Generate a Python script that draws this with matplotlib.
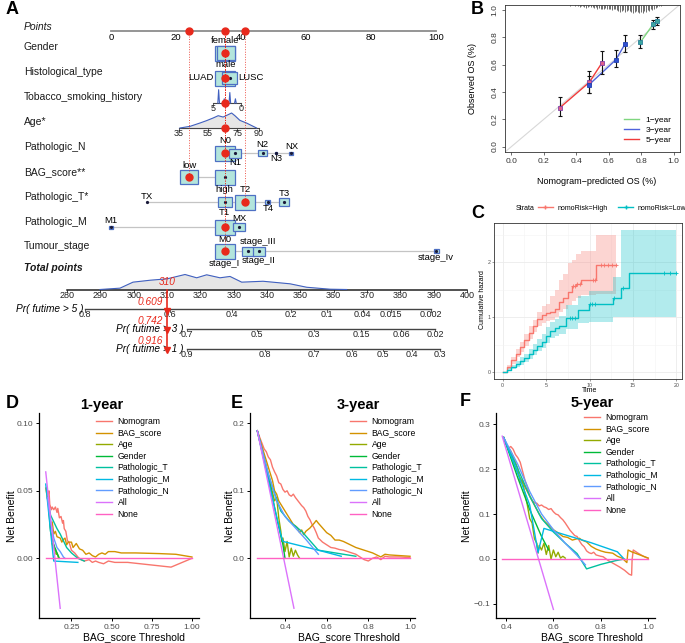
import matplotlib.pyplot as plt
import matplotlib.transforms as mtransforms
from matplotlib.patches import Rectangle
from matplotlib.lines import Line2D
import numpy as np

plt.rcParams['font.family'] = ['Liberation Sans', 'DejaVu Sans']

# ---------------- data: A (nomogram) ----------------
points_ticks = [0, 20, 40, 60, 80, 100]

gender_lv = ['female', 'male']
gender_pts = [35.0, 35.4]
gender_n = [1.0, 0.92]

hist_lv = ['LUAD', 'LUSC']
hist_pts = [35.0, 36.5]
hist_n = [1.0, 0.78]

smoke_ticks = [5, 0]
smoke_vals = [4, 3, 2, 1]
smoke_dens = [0.95, 0.3, 0.75, 0.3]

age_ticks = [35, 55, 75, 90]
age_x = [35.7, 42.6, 49.4, 54, 58.6, 62, 65.4, 68.9, 71.2, 73.5, 76.9, 81.5, 86.1, 88.4]
age_dens = [0, 0.11, 0.33, 0.49, 0.67, 0.82, 0.73, 0.89, 1.0, 0.82, 0.51, 0.33, 0.11, 0]

n_lv = ['N0', 'N1', 'N2', 'N3', 'NX']
n_pts = [35.0, 38.3, 46.7, 50.8, 55.5]
n_n = [1.0, 0.6, 0.45, 0.08, 0.2]

bag_lv = ['low', 'high']
bag_pts = [24.0, 35.0]
bag_n = [0.92, 1.0]

t_lv = ['TX', 'T1', 'T2', 'T4', 'T3']
t_pts = [11.0, 35.0, 41.2, 48.3, 53.2]
t_n = [0.06, 0.7, 1.0, 0.25, 0.47]

m_lv = ['M1', 'M0', 'MX']
m_pts = [0.0, 35.0, 39.4]
m_n = [0.2, 1.0, 0.56]

stage_lv = ['stage_I', 'stage_III', 'stage_II', 'stage_Iv']
stage_pts = [35.0, 42.2, 45.5, 100.0]
stage_n = [1.0, 0.6, 0.6, 0.25]

# points of the highlighted patient on each row
sel_pts = {'gender': 35.0, 'hist': 35.0, 'smoke': 35.0, 'age': 35.0, 'n': 35.0,
           'bag': 24.0, 't': 41.2, 'm': 35.0, 'stage': 35.0}

total_ticks = list(range(280, 401, 10))
total_x = [289.9, 295.9, 299.8, 305, 310, 315.4, 318.9, 321.9, 325.9, 328.9, 332.4, 338.8,
           346.9, 351.9, 358.9, 363.9]
total_dens = [0, 0.09, 0.49, 0.62, 0.71, 1.0, 0.78, 0.98, 0.78, 0.87, 0.49, 0.55, 0.38,
              0.15, 0.02, 0]

pr5_lab = ['0.8', '0.6', '0.4', '0.2', '0.1', '0.04', '0.015', '0.002']
pr5_pos = [285.4, 310.9, 329.4, 347.2, 358.1, 368.7, 377.1, 389.2]
pr3_lab = ['0.7', '0.5', '0.3', '0.15', '0.06', '0.02']
pr3_pos = [315.9, 336.9, 354.0, 368.2, 380.2, 390.4]
pr1_lab = ['0.9', '0.8', '0.7', '0.6', '0.5', '0.4', '0.3']
pr1_pos = [315.9, 339.4, 354.2, 365.4, 374.9, 383.5, 392.0]

patient_total = 310
patient_pr = ['0.609', '0.742', '0.916']

# ---------------- data: B (calibration) ----------------
b1_x = [0.795, 0.874, 0.897]; b1_y = [0.763, 0.895, 0.92]
b1_lo = [0.72, 0.86, 0.89]; b1_hi = [0.817, 0.93, 0.95]
b3_x = [0.477, 0.643, 0.701]; b3_y = [0.451, 0.634, 0.751]
b3_lo = [0.39, 0.58, 0.695]; b3_hi = [0.52, 0.707, 0.817]
b5_x = [0.299, 0.48, 0.557]; b5_y = [0.285, 0.47, 0.61]
b5_lo = [0.227, 0.39, 0.53]; b5_hi = [0.366, 0.554, 0.70]
rug_x = np.round(np.arange(0.30, 0.955, 0.01), 2)
rug_n = [0, 1, 0, 1, 1, 0, 2, 1, 1, 2,
         1, 2, 3, 2, 2, 3, 4, 3, 2, 3,
         3, 4, 3, 5, 4, 5, 6, 5, 4, 6,
         5, 6, 7, 6, 5, 7, 8, 9, 8, 7,
         9, 8, 7, 8, 9, 10, 9, 8, 9, 10,
         9, 10, 8, 9, 7, 8, 6, 7, 5, 4,
         3, 2, 2, 1, 0, 0]

# ---------------- data: C (cumulative hazard) ----------------
high_t = [0, 0.5, 1.0, 1.5, 2.0, 2.5, 3.0, 3.5, 4.0, 4.5, 5.0, 5.5, 6.0, 6.5, 7.0, 7.5, 8.0, 8.5, 9.0, 10.8, 13.1]
high_h = [0, 0.10, 0.22, 0.34, 0.46, 0.58, 0.72, 0.85, 0.97, 1.05, 1.08, 1.10, 1.16, 1.27, 1.35, 1.46, 1.57, 1.60, 1.67, 1.95, 1.95]
high_up = [0, 0.14, 0.28, 0.42, 0.56, 0.70, 0.85, 0.96, 1.10, 1.20, 1.25, 1.38, 1.50, 1.68, 1.78, 1.98, 2.05, 2.15, 2.20, 2.50, 2.50]
high_lo = [0, 0.06, 0.16, 0.27, 0.37, 0.48, 0.60, 0.74, 0.84, 0.90, 0.94, 0.96, 1.00, 1.10, 1.15, 1.22, 1.30, 1.35, 1.40, 1.42, 1.42]
high_cens = [8.1, 8.3, 8.6, 8.9, 10.4, 10.6, 11.3, 11.7, 12.1, 12.6, 13.0]
low_t = [0, 0.5, 1.0, 1.5, 2.0, 2.5, 3.0, 3.5, 4.0, 4.5, 5.0, 5.5, 6.0, 6.5, 7.3, 8.7, 9.9, 12.7, 13.6, 14.5, 20.0]
low_h = [0, 0.05, 0.10, 0.15, 0.20, 0.26, 0.33, 0.41, 0.48, 0.56, 0.66, 0.76, 0.80, 0.84, 0.98, 1.13, 1.24, 1.35, 1.53, 1.80, 1.80]
low_up = [0, 0.08, 0.14, 0.20, 0.27, 0.34, 0.42, 0.51, 0.60, 0.70, 0.82, 0.92, 0.97, 1.02, 1.22, 1.38, 1.47, 1.74, 2.59, 2.59, 2.59]
low_lo = [0, 0.03, 0.06, 0.10, 0.14, 0.19, 0.25, 0.32, 0.38, 0.45, 0.53, 0.62, 0.66, 0.69, 0.78, 0.90, 0.92, 1.00, 1.01, 1.01, 1.01]
low_cens = [7.7, 8.0, 8.3, 10.0, 10.3, 10.6, 12.8, 13.8, 18.6, 19.3, 19.9]

# ---------------- data: D/E/F (decision curves) ----------------
dca_names = ['Nomogram', 'BAG_score', 'Age', 'Gender', 'Pathologic_T', 'Pathologic_M',
             'Pathologic_N', 'All', 'None']
dca_colors = ['#F8766D', '#D39200', '#93AA00', '#00BA38', '#00C19F', '#00B9E3',
              '#619CFF', '#DB72FB', '#FF61C3']

d_t = {
    'Nomogram': [0.095, 0.105, 0.11, 0.115, 0.125, 0.13, 0.14, 0.15, 0.16, 0.165, 0.175, 0.185, 0.195, 0.2,
                 0.205, 0.215, 0.225, 0.235, 0.25, 0.27, 0.29, 0.31, 0.33, 0.36, 0.38, 0.40, 0.42, 0.45,
                 0.48, 0.52, 0.6, 0.87, 1.0],
    'BAG_score': [0.09, 0.1, 0.11, 0.115, 0.12, 0.13, 0.14, 0.15, 0.16, 0.18, 0.19, 0.2, 0.21, 0.22, 0.23,
                  0.25, 0.26, 0.28, 0.30, 0.32, 0.34, 0.36, 0.38, 0.40, 0.42, 0.44, 0.46, 0.48, 0.52, 0.56,
                  0.65, 0.8, 0.9, 1.0],
    'Age': [0.13, 0.135, 0.14, 0.145, 0.15, 0.155, 0.16, 0.17],
    'Gender': [0.11, 0.12, 0.14, 0.16, 0.175],
    'Pathologic_T': [0.1, 0.12, 0.14, 0.16, 0.18, 0.2, 0.22, 0.25, 0.29, 0.33],
    'Pathologic_M': [0.09, 0.12, 0.135, 0.14, 0.29],
    'Pathologic_N': [0.1, 0.12, 0.14, 0.16, 0.18, 0.2, 0.21],
    'All': [0.09, 0.18],
    'None': [0.09, 1.0],
}
d_nb = {
    'Nomogram': [0.052, 0.047, 0.050, 0.040, 0.036, 0.038, 0.036, 0.038, 0.034, 0.037, 0.030, 0.031, 0.026,
                 0.028, 0.022, 0.020, 0.013, 0.012, 0.006, 0.004, 0.001, -0.001, -0.002, -0.001, -0.003,
                 -0.002, -0.003, -0.004, -0.002, -0.003, -0.003, -0.0065, 0.0],
    'BAG_score': [0.052, 0.045, 0.038, 0.030, 0.022, 0.027, 0.018, 0.020, 0.016, 0.015, 0.012, 0.014, 0.015,
                  0.010, 0.012, 0.012, 0.008, 0.011, 0.007, 0.006, 0.003, 0.004, 0.002, 0.001, 0.003, 0.004,
                  0.003, 0.005, 0.005, 0.004, 0.004, 0.0035, 0.003, 0.001],
    'Age': [0.011, 0.009, 0.010, 0.006, 0.007, 0.003, 0.004, 0.0],
    'Gender': [0.035, 0.02, 0.01, 0.004, 0.0],
    'Pathologic_T': [0.045, 0.032, 0.027, 0.022, 0.018, 0.013, 0.008, 0.004, 0.0, -0.002],
    'Pathologic_M': [0.055, 0.02, 0.003, -0.002, -0.003],
    'Pathologic_N': [0.045, 0.028, 0.015, 0.008, 0.005, 0.001, 0.0],
    'All': [0.064, -0.037],
    'None': [0.0, 0.0],
}

e_t = {
    'Nomogram': [0.267, 0.28, 0.29, 0.30, 0.31, 0.32, 0.33, 0.34, 0.35, 0.36, 0.37, 0.38, 0.39, 0.40, 0.41,
                 0.42, 0.43, 0.44, 0.45, 0.46, 0.47, 0.48, 0.49, 0.50, 0.51, 0.52, 0.53, 0.54, 0.55, 0.56,
                 0.58, 0.60, 0.62, 0.64, 0.66, 0.68, 0.70, 0.72, 0.74, 0.76, 0.78, 0.80, 0.82, 0.84, 0.86,
                 0.88, 0.90, 0.95, 1.0],
    'BAG_score': [0.267, 0.28, 0.30, 0.32, 0.34, 0.35, 0.36, 0.37, 0.38, 0.39, 0.40, 0.41, 0.42, 0.43, 0.44,
                  0.45, 0.46, 0.47, 0.48, 0.49, 0.50, 0.52, 0.54, 0.55, 0.56, 0.58, 0.60, 0.62, 0.64, 0.66,
                  0.68, 0.70, 0.72, 0.74, 0.76, 0.78, 0.80, 0.82, 0.84, 0.86, 0.88, 0.90, 0.95, 1.0],
    'Age': [0.267, 0.30, 0.33, 0.35, 0.36, 0.37, 0.38, 0.385, 0.39, 0.40, 0.41, 0.42, 0.43, 0.44, 0.45,
            0.46, 0.47],
    'Gender': [0.267, 0.32, 0.36, 0.39, 0.40],
    'Pathologic_T': [0.267, 0.30, 0.34, 0.38, 0.42, 0.48, 0.56, 0.74],
    'Pathologic_M': [0.267, 0.31, 0.35, 0.38, 0.39, 0.56, 0.67],
    'Pathologic_N': [0.267, 0.32, 0.36, 0.40, 0.45, 0.50, 0.56],
    'All': [0.267, 0.443],
    'None': [0.267, 1.0],
}
e_nb = {
    'Nomogram': [0.189, 0.178, 0.170, 0.162, 0.158, 0.150, 0.146, 0.135, 0.128, 0.122, 0.112, 0.110, 0.102,
                 0.098, 0.100, 0.094, 0.092, 0.095, 0.090, 0.086, 0.082, 0.078, 0.075, 0.070, 0.062, 0.057,
                 0.050, 0.045, 0.038, 0.030, 0.024, 0.020, 0.016, 0.015, 0.013, 0.012, 0.010, 0.008, 0.006,
                 0.002, -0.002, -0.004, 0.0, 0.002, -0.002, 0.003, 0.002, 0.002, 0.001],
    'BAG_score': [0.189, 0.175, 0.155, 0.135, 0.115, 0.10, 0.095, 0.085, 0.08, 0.075, 0.07, 0.065, 0.06,
                  0.055, 0.05, 0.048, 0.045, 0.038, 0.042, 0.035, 0.040, 0.045, 0.052, 0.056, 0.052, 0.045,
                  0.038, 0.034, 0.027, 0.027, 0.025, 0.022, 0.019, 0.016, 0.014, 0.012, 0.01, 0.008, 0.005,
                  0.002, 0.006, 0.005, 0.004, 0.003],
    'Age': [0.189, 0.15, 0.11, 0.085, 0.09, 0.06, 0.04, 0.025, 0.03, 0.01, 0.025, 0.002, 0.015, 0.003,
            0.012, 0.005, 0.0],
    'Gender': [0.189, 0.12, 0.06, 0.02, 0.0],
    'Pathologic_T': [0.189, 0.145, 0.105, 0.07, 0.055, 0.04, 0.012, 0.003],
    'Pathologic_M': [0.189, 0.13, 0.075, 0.035, 0.025, 0.012, 0.003],
    'Pathologic_N': [0.189, 0.125, 0.085, 0.062, 0.045, 0.028, 0.006],
    'All': [0.189, -0.074],
    'None': [0.0, 0.0],
}

f_t = {
    'Nomogram': [0.39, 0.40, 0.41, 0.42, 0.43, 0.44, 0.45, 0.46, 0.47, 0.48, 0.49, 0.50, 0.51, 0.52, 0.53,
                 0.54, 0.55, 0.56, 0.57, 0.58, 0.59, 0.60, 0.61, 0.62, 0.63, 0.64, 0.65, 0.66, 0.67, 0.68,
                 0.69, 0.70, 0.71, 0.72, 0.73, 0.74, 0.75, 0.76, 0.77, 0.78, 0.80, 0.81, 0.83, 0.84, 0.86,
                 0.88, 0.90, 0.92, 0.93, 0.932, 0.937, 0.96, 0.98, 1.0],
    'BAG_score': [0.39, 0.40, 0.42, 0.44, 0.45, 0.46, 0.47, 0.48, 0.50, 0.52, 0.54, 0.56, 0.58, 0.60, 0.62,
                  0.64, 0.66, 0.68, 0.70, 0.71, 0.72, 0.74, 0.76, 0.78, 0.80, 0.82, 0.85, 0.87, 0.89, 0.91,
                  0.915, 0.93, 0.95, 0.97, 1.0],
    'Age': [0.39, 0.42, 0.45, 0.47, 0.49, 0.50, 0.51, 0.52, 0.53, 0.535, 0.54, 0.55, 0.56, 0.57, 0.58,
            0.59, 0.60, 0.61, 0.62, 0.63, 0.64, 0.65],
    'Gender': [0.39, 0.45, 0.50, 0.55, 0.58],
    'Pathologic_T': [0.39, 0.45, 0.50, 0.55, 0.60, 0.65, 0.70, 0.74, 0.80, 0.86, 0.90],
    'Pathologic_M': [0.39, 0.45, 0.50, 0.53, 0.535, 0.56, 0.76, 0.87, 0.895],
    'Pathologic_N': [0.39, 0.45, 0.50, 0.55, 0.60, 0.65, 0.70, 0.735],
    'All': [0.384, 0.6],
    'None': [0.384, 1.0],
}
f_nb = {
    'Nomogram': [0.27, 0.255, 0.246, 0.25, 0.244, 0.232, 0.225, 0.215, 0.195, 0.175, 0.16, 0.14, 0.13,
                 0.125, 0.124, 0.118, 0.12, 0.116, 0.114, 0.11, 0.112, 0.105, 0.1, 0.098, 0.092, 0.087,
                 0.08, 0.072, 0.064, 0.058, 0.052, 0.05, 0.04, 0.032, 0.027, 0.018, 0.014, 0.012, 0.015,
                 0.009, 0.006, 0.005, -0.003, -0.006, -0.012, -0.018, -0.025, -0.034, -0.036, -0.002,
                 0.02, 0.012, 0.006, 0.0015],
    'BAG_score': [0.27, 0.255, 0.24, 0.215, 0.20, 0.17, 0.175, 0.16, 0.14, 0.12, 0.10, 0.085, 0.075,
                  0.065, 0.058, 0.05, 0.048, 0.042, 0.045, 0.046, 0.042, 0.038, 0.028, 0.022, 0.018,
                  0.015, 0.013, 0.006, 0.002, -0.008, 0.02, 0.016, 0.012, 0.008, 0.002],
    'Age': [0.27, 0.23, 0.19, 0.17, 0.12, 0.09, 0.08, 0.045, 0.035, 0.013, 0.03, 0.02, 0.035, 0.01, 0.03,
            0.0, 0.02, 0.005, 0.015, 0.002, 0.006, 0.002],
    'Gender': [0.27, 0.18, 0.11, 0.05, 0.02],
    'Pathologic_T': [0.27, 0.2, 0.14, 0.09, 0.06, 0.035, 0.012, -0.022, -0.012, -0.004, 0.0],
    'Pathologic_M': [0.27, 0.19, 0.12, 0.03, 0.014, 0.068, 0.036, 0.016, 0.002],
    'Pathologic_N': [0.27, 0.21, 0.15, 0.10, 0.065, 0.035, 0.008, -0.013],
    'All': [0.273, -0.112],
    'None': [0.0, 0.0],
}

# ---------------- figure ----------------
W, H = 685, 643
fig = plt.figure(figsize=(W / 100, H / 100), dpi=100)


def px_axes(l, t, r, b):
    return fig.add_axes([l / W, 1 - b / H, (r - l) / W, (b - t) / H])


def panel_label(x, y, s):
    fig.text(x / W, 1 - y / H, s, fontsize=13, fontweight='bold', ha='center', va='center')


# ===== A: nomogram =====
axA = px_axes(0, 0, 470, 360)
PX0, PXS = 111, 3.25          # x pixel of 0 points, pixels per point
axA.set_xlim(-PX0 / PXS, (470 - PX0) / PXS)
axA.set_ylim(360, 0)
axA.axis('off')
lab_tr = mtransforms.blended_transform_factory(axA.transAxes, axA.transData)

BOX_FC, BOX_EC = '#b3e5dc', '#4e70c4'
RED = '#e8291c'
DENS_EC = '#4060c0'


def tot2pts(T):
    return (67 + (np.asarray(T, dtype=float) - 280) * 10 / 3 - PX0) / PXS


def age2pts(a):
    return 20.9 + (np.asarray(a, dtype=float) - 35) * 0.4473


def smoke2pts(v):
    return 40.0 - np.asarray(v, dtype=float) * 1.72


def scale_line(y, pos, labels, color='#555555', lw=1.0, fs=6.5):
    axA.plot([min(pos), max(pos)], [y, y], color=color, lw=lw, zorder=1)
    for p, s in zip(pos, labels):
        axA.plot([p, p], [y, y + 2.5], color=color, lw=0.6, zorder=1)
        axA.text(p, y + 1.2, s, ha='center', va='top', fontsize=fs, color='#222222')


def level_row(y, names, pts, n, sides, dx=None):
    dx = dx or [0] * len(names)
    axA.plot([min(pts), max(pts)], [y, y], color='#c4c4c4', lw=0.9, zorder=1)
    for nm, p, s, sd, d in zip(names, pts, n, sides, dx):
        w, h = 20 * s / PXS, 15 * s
        axA.add_patch(Rectangle((p - w / 2, y - h / 2), w, h, fc=BOX_FC, ec=BOX_EC, lw=0.9, zorder=2))
        axA.plot(p, y, 'o', ms=1.3, color='#1a1a3a', zorder=3)
        if sd == 'above':
            axA.text(p + d, y - h / 2 - 0.2, nm, ha='center', va='bottom', fontsize=6.8)
        elif sd == 'below':
            axA.text(p + d, y + h / 2 + 0.3, nm, ha='center', va='top', fontsize=6.8)
        elif sd == 'left':
            axA.text(p - w / 2 - 0.3, y, nm, ha='right', va='center', fontsize=6.8)
        else:
            axA.text(p + w / 2 + 0.3, y, nm, ha='left', va='center', fontsize=6.8)


row_y = {'points': 31, 'gender': 53, 'hist': 78, 'smoke': 103, 'age': 128, 'n': 153,
         'bag': 177, 't': 202, 'm': 227, 'stage': 251}
row_lab = [('Points', 27, 'italic', 'normal'), ('Gender', 47, 'normal', 'normal'),
           ('Histological_type', 72, 'normal', 'normal'), ('Tobacco_smoking_history', 97, 'normal', 'normal'),
           ('Age*', 122, 'normal', 'normal'), ('Pathologic_N', 147, 'normal', 'normal'),
           ('BAG_score**', 172, 'normal', 'normal'), ('Pathologic_T*', 197, 'normal', 'normal'),
           ('Pathologic_M', 222, 'normal', 'normal'), ('Tumour_stage', 246, 'normal', 'normal'),
           ('Total points', 268, 'italic', 'bold')]
for s, y, st, wt in row_lab:
    axA.text(24 / 470, y, s, transform=lab_tr, ha='left', va='center', fontsize=7.5,
             style=st, fontweight=wt, color='#1a1a1a')

# points axis
axA.plot([0, 100], [31, 31], color='#8c8c8c', lw=1.3, zorder=1)
for p in points_ticks:
    axA.text(p, 32.5, str(p), ha='center', va='top', fontsize=6.8)

# dotted guide lines from points axis to the selected level on each row
for key, p in sel_pts.items():
    axA.plot([p, p], [31, row_y[key]], color=RED, lw=0.7, ls=(0, (1, 1.6)), zorder=4, alpha=0.8)
for p in sorted(set(sel_pts.values())):
    axA.plot(p, 31, 'o', ms=5, color=RED, zorder=5)

level_row(row_y['gender'], gender_lv, gender_pts, gender_n, ['above', 'below'])
level_row(row_y['hist'], hist_lv, hist_pts, hist_n, ['left', 'right'])

# tobacco: spike density + axis
ys = row_y['smoke']
sx = smoke2pts(smoke_vals)
for x, d in zip(sx, smoke_dens):
    axA.plot([x - 0.25, x, x + 0.25], [ys, ys - 14 * d, ys], color=DENS_EC, lw=0.8, zorder=2)
scale_line(ys, list(smoke2pts(smoke_ticks)), [str(v) for v in smoke_ticks], color='#444444', lw=0.8)

# age: density + axis
ya = row_y['age']
ax_age = age2pts(age_x)
axA.fill_between(ax_age, ya, ya - 15 * np.array(age_dens), color='#e6e6e6', zorder=1)
axA.plot(ax_age, ya - 15 * np.array(age_dens), color=DENS_EC, lw=0.8, zorder=2)
scale_line(ya, list(age2pts(age_ticks)), [str(v) for v in age_ticks], color='#444444', lw=0.8)

level_row(row_y['n'], n_lv, n_pts, n_n, ['above', 'below', 'above', 'below', 'above'])
level_row(row_y['bag'], bag_lv, bag_pts, bag_n, ['above', 'below'])
level_row(row_y['t'], t_lv, t_pts, t_n, ['above', 'below', 'above', 'below', 'above'])
level_row(row_y['m'], m_lv, m_pts, m_n, ['above', 'below', 'above'])
level_row(row_y['stage'], stage_lv, stage_pts, stage_n, ['below', 'above', 'below', 'below'],
          dx=[0, 3.0, 0, 0])

for key, p in sel_pts.items():
    axA.plot(p, row_y[key], 'o', ms=5, color=RED, zorder=6)

# total points
yt = 289.5
tx = tot2pts(total_x)
axA.fill_between(tx, yt, yt - 15 * np.array(total_dens), color='#e6e6e6', zorder=1)
axA.plot(tx, yt - 15 * np.array(total_dens), color=DENS_EC, lw=0.8, zorder=2)
scale_line(yt, list(tot2pts(total_ticks)), [str(v) for v in total_ticks], color='#222222', lw=1.1)

pr_rows = [(309, 'Pr( futime > 5 )', 83, pr5_pos, pr5_lab),
           (328.5, 'Pr( futime > 3 )', 183, pr3_pos, pr3_lab),
           (348.5, 'Pr( futime > 1 )', 183, pr1_pos, pr1_lab)]
for y, txt, xr, pos, lab in pr_rows:
    scale_line(y, list(tot2pts(pos)), lab, color='#444444', lw=1.0)
    axA.text((xr - PX0) / PXS, y, txt, ha='right', va='center', fontsize=7.3, style='italic')

xp = float(tot2pts(patient_total))
axA.text(xp, 287, str(patient_total), ha='center', va='bottom', fontsize=7.3, style='italic', color=RED)
axA.plot([xp, xp], [yt, 349], color=RED, lw=1.2, zorder=6)
for (y, _, _, _, _), v in zip(pr_rows, patient_pr):
    axA.plot(xp, y + 1.5, 'v', ms=4, color=RED, zorder=7)
    axA.text(xp - 1.2, y - 7, v, ha='right', va='center', fontsize=7.3, style='italic', color=RED)

# ===== B: calibration =====
axB = px_axes(505, 4.5, 680, 152)
axB.set_xlim(-0.04, 1.04)
axB.set_ylim(-0.04, 1.04)
axB.plot([-0.04, 1.04], [-0.04, 1.04], color='#d8d8d8', lw=0.8, zorder=1)
axB.vlines(rug_x, 1.04 - 0.006 * np.array(rug_n), 1.04, color='#555555', lw=0.6)
for xs, yv, lo, hi, lc, fc, ec in [(b5_x, b5_y, b5_lo, b5_hi, '#f03b3b', '#e0608a', '#8040a8'),
                                    (b3_x, b3_y, b3_lo, b3_hi, '#4f63dc', '#2f4fd0', '#2040b0'),
                                    (b1_x, b1_y, b1_lo, b1_hi, '#7fd67f', '#3aa6a0', '#2a7f9a')]:
    axB.plot(xs, yv, color=lc, lw=1.0, zorder=2)
    yv = np.array(yv)
    axB.errorbar(xs, yv, yerr=[yv - np.array(lo), np.array(hi) - yv], fmt='none', ecolor='#111111',
                 elinewidth=0.8, capsize=1.6, capthick=0.8, zorder=3)
    axB.plot(xs, yv, 's', ms=3, mfc=fc, mec=ec, mew=0.6, zorder=4)
axB.set_xticks([0, 0.2, 0.4, 0.6, 0.8, 1.0])
axB.set_yticks([0, 0.2, 0.4, 0.6, 0.8, 1.0])
axB.set_xticklabels(['0.0', '0.2', '0.4', '0.6', '0.8', '1.0'])
axB.set_yticklabels(['0.0', '0.2', '0.4', '0.6', '0.8', '1.0'], rotation=90, va='center')
axB.tick_params(labelsize=6, length=2.5, width=0.5, colors='#333333', pad=2)
for sp in axB.spines.values():
    sp.set_linewidth(0.6)
    sp.set_color('#333333')
fig.text(597 / W, 1 - 181 / H, 'Nomogram\u2212predicted OS (%)', ha='center', va='center', fontsize=6.5)
fig.text(473 / W, 1 - 78 / H, 'Observed OS (%)', ha='center', va='center', fontsize=6.5, rotation=90)
hB = [Line2D([], [], color=c, lw=1.0) for c in ['#7fd67f', '#4f63dc', '#f03b3b']]
axB.legend(hB, ['1\u2212year', '3\u2212year', '5\u2212year'], loc='lower right', frameon=False,
           fontsize=6, handlelength=1.8, labelspacing=0.25, borderaxespad=0.6)

# ===== C: cumulative hazard =====
axC = px_axes(494.3, 223.3, 681.7, 379.3)
axC.set_xlim(-0.95, 20.6)
axC.set_ylim(-0.127, 2.71)
CRED, CCYAN = '#F8766D', '#00BFC4'
for t, h, lo, hi, c, cens in [(high_t, high_h, high_lo, high_up, CRED, high_cens),
                              (low_t, low_h, low_lo, low_up, CCYAN, low_cens)]:
    axC.fill_between(t, lo, hi, step='post', color=c, alpha=0.3, lw=0, zorder=2)
    axC.step(t, h, where='post', color=c, lw=1.0, zorder=3)
    idx = np.searchsorted(t, cens, side='right') - 1
    axC.plot(cens, np.array(h)[idx], '+', color=c, ms=3, mew=0.6, zorder=4)
axC.set_xticks([0, 5, 10, 15, 20])
axC.set_yticks([0, 1, 2])
axC.set_xticks([2.5, 7.5, 12.5, 17.5], minor=True)
axC.set_yticks([0.5, 1.5, 2.5], minor=True)
axC.grid(True, which='major', color='#ebebeb', lw=0.6)
axC.grid(True, which='minor', color='#f3f3f3', lw=0.4)
axC.set_axisbelow(True)
axC.tick_params(labelsize=3.8, length=1.5, width=0.4, colors='#4d4d4d', pad=1)
axC.tick_params(which='minor', length=0)
for sp in axC.spines.values():
    sp.set_linewidth(0.6)
    sp.set_color('#333333')
fig.text(590 / W, 1 - 391 / H, 'Time', ha='center', va='center', fontsize=5)
fig.text(482 / W, 1 - 300 / H, 'Cumulative hazard', ha='center', va='center', fontsize=5, rotation=90)
fig.text(525 / W, 1 - 208 / H, 'Strata', ha='center', va='center', fontsize=5)
hC = [Line2D([], [], color=c, lw=1.0, marker='+', ms=3) for c in [CRED, CCYAN]]
fig.legend(hC, ['nomoRisk=High', 'nomoRisk=Low'], loc='center left', ncol=2,
           bbox_to_anchor=(535 / W, 1 - 208 / H), frameon=False, fontsize=5, handlelength=2.2,
           columnspacing=1.5, handletextpad=0.6, borderaxespad=0)

# ===== D/E/F: decision curves =====
def dca(box, t_d, nb_d, xlim, ylim, xt, xtl, yt_, ytl, title, title_xy, leg_xy, xlab_xy, ylab_xy):
    ax = px_axes(*box)
    for nm, c in zip(dca_names, dca_colors):
        ax.plot(t_d[nm], nb_d[nm], color=c, lw=1.0, label=nm)
    ax.set_xlim(*xlim)
    ax.set_ylim(*ylim)
    ax.set_xticks(xt)
    ax.set_xticklabels(xtl)
    ax.set_yticks(yt_)
    ax.set_yticklabels(ytl)
    ax.spines['top'].set_visible(False)
    ax.spines['right'].set_visible(False)
    for s in ['left', 'bottom']:
        ax.spines[s].set_linewidth(0.9)
    ax.tick_params(labelsize=6, length=2.5, width=0.7, labelcolor='#4d4d4d', pad=1.5)
    fig.text(title_xy[0] / W, 1 - title_xy[1] / H, title, ha='center', va='center', fontsize=10.5,
             fontweight='bold')
    fig.text(xlab_xy[0] / W, 1 - xlab_xy[1] / H, 'BAG_score Threshold', ha='center', va='center',
             fontsize=7.5)
    fig.text(ylab_xy[0] / W, 1 - ylab_xy[1] / H, 'Net Benefit', ha='center', va='center', fontsize=7.5,
             rotation=90)
    ax.legend(loc='upper left', bbox_to_anchor=(leg_xy[0] / W, 1 - leg_xy[1] / H),
              bbox_transform=fig.transFigure, frameon=False, fontsize=6.2, handlelength=1.8,
              handletextpad=0.7, labelspacing=0.3, borderpad=0, borderaxespad=0)
    return ax


dca((39, 413.3, 199, 618.3), d_t, d_nb, (0.048, 1.044), (-0.0444, 0.1074),
    [0.25, 0.5, 0.75, 1.0], ['0.25', '0.50', '0.75', '1.00'],
    [0.0, 0.05, 0.10], ['0.00', '0.05', '0.10'], '1-year', (102, 405), (96, 417), (134, 637), (12, 516))
dca((250, 413.3, 415, 618.3), e_t, e_nb, (0.232, 1.024), (-0.0889, 0.2148),
    [0.4, 0.6, 0.8, 1.0], ['0.4', '0.6', '0.8', '1.0'],
    [0.0, 0.1, 0.2], ['0.0', '0.1', '0.2'], '3-year', (358, 405), (350, 417), (349, 637), (230, 516))
dca((495.7, 413.3, 655, 618.3), f_t, f_nb, (0.3565, 1.0287), (-0.1318, 0.3238),
    [0.4, 0.6, 0.8, 1.0], ['0.4', '0.6', '0.8', '1.0'],
    [-0.1, 0.0, 0.1, 0.2, 0.3], ['\u22120.1', '0.0', '0.1', '0.2', '0.3'], '5-year', (592, 403),
    (584, 413), (592, 637), (467, 516))

panel_label(12, 10, 'A')
panel_label(477, 10, 'B')
panel_label(478, 214, 'C')
panel_label(12, 404, 'D')
panel_label(237, 404, 'E')
panel_label(465, 402, 'F')

fig.savefig('out.png', dpi=100)
